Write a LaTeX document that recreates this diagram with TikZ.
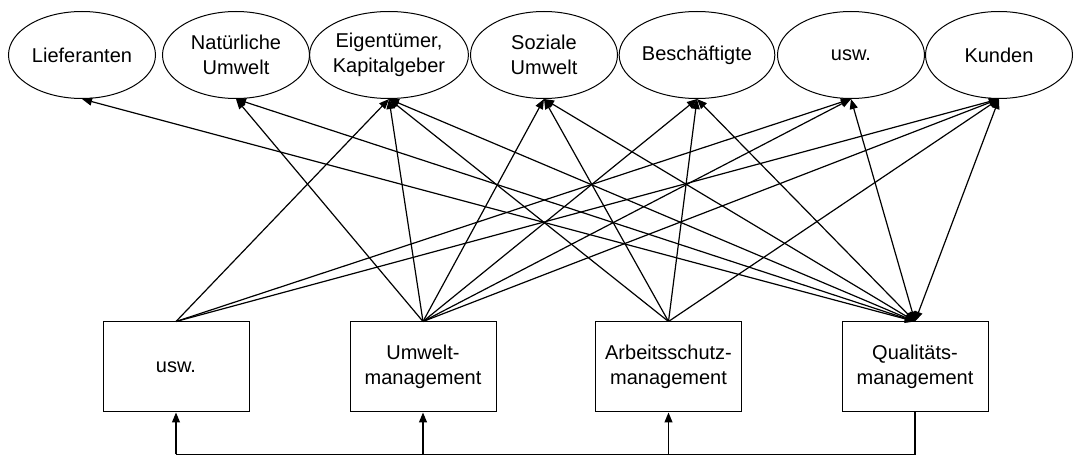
\documentclass[tikz,border=0pt]{standalone}
\usepackage{fontspec}
\setmainfont{Liberation Sans}
\usetikzlibrary{shapes.geometric,arrows.meta}

\begin{document}
\begin{tikzpicture}[x=0.5pt,y=0.5pt,line width=0.6pt,
	gruppe/.style={ellipse,draw,line width=0.5pt,minimum width=73.5pt,minimum height=43.5pt,inner sep=0pt,align=center,font=\fontsize{10}{12.5}\selectfont},
	system/.style={rectangle,draw,line width=0.5pt,minimum width=73pt,minimum height=45pt,inner sep=0pt,align=center,font=\fontsize{10}{12.5}\selectfont},
	pfeil/.style={-{Triangle[length=5pt,width=4pt]}},
	doppel/.style={{Triangle[length=5pt,width=4pt]}-{Triangle[length=5pt,width=4pt]}}]
\useasboundingbox (0,0) rectangle (1073,456);

% Anspruchsgruppen
\node[gruppe] (lief) at (82,401) {Lieferanten};
\node[gruppe] (natur) at (236,401) {Natürliche\\Umwelt};
\node[gruppe] (eigen) at (389,401) {Eigentümer,\\Kapitalgeber};
\node[gruppe] (sozial) at (544,401) {Soziale\\Umwelt};
\node[gruppe] (besch) at (697,401) {Beschäftigte};
\node[gruppe] (uswell) at (851,401) {usw.};
\node[gruppe] (kunden) at (999,401) {Kunden};

% Managementsysteme
\node[system] (uswbox) at (176,89) {usw.};
\node[system] (umwelt) at (423,89) {Umwelt-\\management};
\node[system] (arbeit) at (668.5,89) {Arbeitsschutz-\\management};
\node[system] (qualitaet) at (915,89) {Qualitäts-\\management};

% Beziehungen
\foreach \z in {eigen,uswell,kunden}
	\draw[pfeil] (uswbox.north) -- (\z.south);
\foreach \z in {natur,eigen,sozial,besch,uswell,kunden}
	\draw[pfeil] (umwelt.north) -- (\z.south);
\foreach \z in {eigen,sozial,besch,kunden}
	\draw[pfeil] (arbeit.north) -- (\z.south);
\foreach \z in {lief,natur,eigen,sozial,besch,uswell,kunden}
	\draw[doppel] (qualitaet.north) -- (\z.south);

% Rueckkopplung
\coordinate (bus) at (0,1.5);
\draw (qualitaet.south) -- (qualitaet.south |- bus) -- (uswbox.south |- bus);
\foreach \b in {uswbox,umwelt,arbeit}
	\draw[pfeil] (\b.south |- bus) -- (\b.south);
\end{tikzpicture}
\end{document}
